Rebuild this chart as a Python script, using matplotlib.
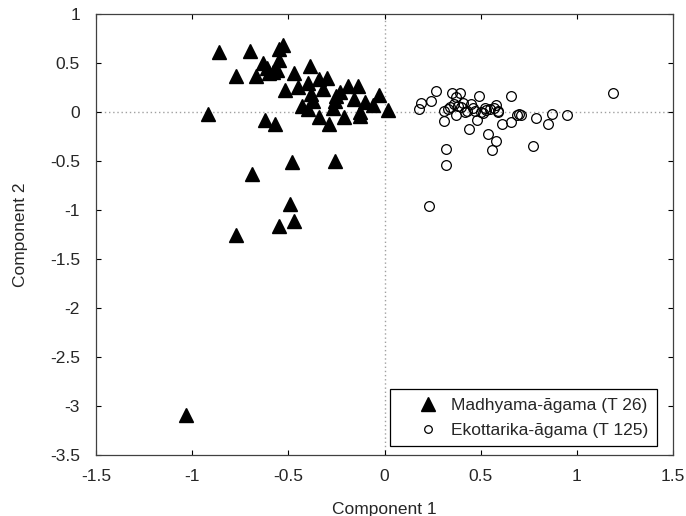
import matplotlib
matplotlib.use("Agg")
import matplotlib.pyplot as plt
from matplotlib.lines import Line2D

plt.rcParams['font.family'] = ['Liberation Sans', 'DejaVu Sans']

# Madhyama-agama (T 26)
madhyama_x = [-0.86, -0.70, -0.53, -0.55, -0.55, -0.63, -0.61, -0.77, -0.67, -0.58,
              -0.60, -0.56, -0.47, -0.39, -0.34, -0.30, -0.52, -0.45, -0.40, -0.32,
              -0.19, -0.14, -0.25, -0.16, -0.10, -0.03, -0.06, 0.02, -0.43, -0.40,
              -0.37, -0.27, -0.26, -0.34, -0.29, -0.21, -0.13, -0.13, -0.62, -0.57,
              -0.92, -0.38, -0.23, -0.48, -0.26, -0.69, -0.49, -0.47, -0.55, -0.77,
              -1.03]
madhyama_y = [0.61, 0.62, 0.68, 0.64, 0.53, 0.50, 0.45, 0.37, 0.37, 0.41,
              0.40, 0.43, 0.40, 0.47, 0.34, 0.35, 0.22, 0.25, 0.30, 0.23,
              0.26, 0.26, 0.16, 0.13, 0.10, 0.17, 0.07, 0.02, 0.06, 0.03,
              0.11, 0.04, 0.11, -0.05, -0.12, -0.05, -0.04, 0.00, -0.08, -0.12,
              -0.02, 0.18, 0.20, -0.51, -0.50, -0.63, -0.94, -1.11, -1.16, -1.25,
              -3.09]

# Ekottarika-agama (T 125)
ekottarika_x = [0.27, 0.19, 0.24, 0.18, 0.35, 0.39, 0.37, 0.49, 0.66, 1.19,
                0.31, 0.31, 0.34, 0.37, 0.38, 0.41, 0.42, 0.44, 0.45, 0.47,
                0.48, 0.51, 0.53, 0.55, 0.58, 0.59, 0.61, 0.66, 0.69, 0.71,
                0.79, 0.85, 0.87, 0.95, 0.54, 0.58, 0.56, 0.77, 0.32, 0.32,
                0.23, 0.33, 0.36, 0.40, 0.43, 0.46, 0.50, 0.52, 0.57, 0.59, 0.70]
ekottarika_y = [0.21, 0.09, 0.11, 0.03, 0.19, 0.19, 0.15, 0.16, 0.16, 0.19,
                0.01, -0.09, 0.05, -0.03, 0.06, 0.09, 0.00, -0.17, 0.08, 0.01,
                -0.08, -0.01, 0.02, 0.03, 0.07, 0.01, -0.12, -0.10, -0.03, -0.03,
                -0.06, -0.12, -0.02, -0.03, -0.22, -0.30, -0.39, -0.35, -0.38, -0.54,
                -0.96, 0.03, 0.08, 0.05, 0.01, 0.04, 0.00, 0.04, 0.04, 0.00, -0.02]

xticks = [-1.5, -1, -0.5, 0, 0.5, 1, 1.5]
yticks = [1, 0.5, 0, -0.5, -1, -1.5, -2, -2.5, -3, -3.5]
labels = ['Madhyama-āgama (T 26)', 'Ekottarika-āgama (T 125)']

FS = 12.5
TXT = '#262626'

fig = plt.figure(figsize=(6.86, 5.16), dpi=100)
ax = fig.add_axes([0.140, 0.118, 0.841, 0.855])

ax.axhline(0, color='#a0a0a0', linestyle=(0, (1, 2)), linewidth=1, zorder=1)
ax.axvline(0, color='#a0a0a0', linestyle=(0, (1, 2)), linewidth=1, zorder=1)

ax.plot(madhyama_x, madhyama_y, linestyle='none', marker='^', markersize=10,
        markerfacecolor='black', markeredgecolor='black', markeredgewidth=1,
        zorder=3)
ax.plot(ekottarika_x, ekottarika_y, linestyle='none', marker='o', markersize=7,
        markerfacecolor='none', markeredgecolor='black', markeredgewidth=0.9,
        zorder=3)

ax.set_xlim(-1.5, 1.5)
ax.set_ylim(-3.5, 1)
ax.set_xticks(xticks)
ax.set_xticklabels([f'{t:g}' for t in xticks])
ax.set_yticks(yticks)
ax.set_yticklabels([f'{t:g}' for t in yticks])
ax.tick_params(direction='in', length=3.5, width=0.8, top=True, right=True,
               labelsize=FS, labelcolor=TXT)
ax.tick_params(axis='y', pad=11.5)
ax.tick_params(axis='x', pad=10)
for s in ax.spines.values():
    s.set_linewidth(0.9)
    s.set_color('#404040')

ax.set_xlabel('Component 1', fontsize=FS, color=TXT, labelpad=13)
ax.set_ylabel('Component 2', fontsize=FS, color=TXT, labelpad=16)

handles = [
    Line2D([], [], linestyle='none', marker='^', markersize=10,
           markerfacecolor='black', markeredgecolor='black'),
    Line2D([], [], linestyle='none', marker='o', markersize=5.5,
           markerfacecolor='none', markeredgecolor='black', markeredgewidth=0.9),
]
leg = ax.legend(handles, labels, loc='lower right', bbox_to_anchor=(0.972, 0.020),
                borderaxespad=0, fancybox=False, edgecolor='black', framealpha=1,
                fontsize=FS, handlelength=3.4, handletextpad=-0.37, borderpad=0.49,
                labelspacing=0.57)
leg.get_frame().set_linewidth(0.9)
for t in leg.get_texts():
    t.set_color(TXT)

fig.savefig('out.png', dpi=100)
